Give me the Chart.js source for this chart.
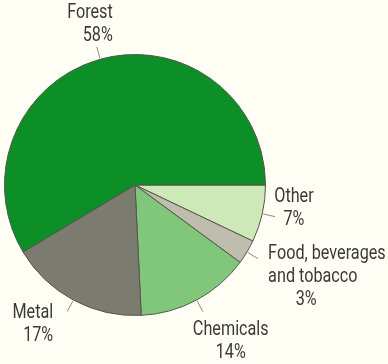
<!DOCTYPE html>
<html>
<head>
<meta charset="utf-8">
<script src="https://cdn.jsdelivr.net/npm/chart.js@4"></script>
<style>
  html, body { margin: 0; padding: 0; background: #fffff6; }
  #wrap { width: 388px; height: 364px; }
</style>
</head>
<body>
<div id="wrap"><canvas id="myChart" width="388" height="364"></canvas></div>
<script>
// industry shares, clockwise from 3 o'clock
const sectors = ['Other', 'Food, beverages\nand tobacco', 'Chemicals', 'Metal', 'Forest'];
const shares = [7, 3, 14, 17, 58];
const sliceColors = ['#cde9b8', '#bebdae', '#80c67b', '#7b7b70', '#0b8f26'];

// where each label sits relative to the outer end of its leader line
const labelSpots = [
    {dx: 19, dy: -20, align: 'center'},
    {dx: 10, dy: -5, align: 'left', pctX: 48},
    {dx: 28, dy: 19, align: 'center'},
    {dx: -14, dy: 2, align: 'right'},
    {dx: 16, dy: -34, align: 'right'}
];

const FONT = '20px Roboto, "DejaVu Sans", sans-serif';
const SQUEEZE = 0.81;   // narrow the face horizontally
const LINE_H = 23;

const leaderLabels = {
    id: 'leaderLabels',
    afterDatasetsDraw(chart) {
        const ctx = chart.ctx;
        const arcs = chart.getDatasetMeta(0).data;
        ctx.save();
        ctx.font = FONT;
        ctx.fillStyle = '#3a3a36';
        ctx.strokeStyle = '#8a8a84';
        ctx.lineWidth = 1;
        ctx.textBaseline = 'middle';
        arcs.forEach((arc, i) => {
            const p = arc.getProps(['x', 'y', 'startAngle', 'endAngle', 'outerRadius'], true);
            const mid = (p.startAngle + p.endAngle) / 2;
            const r0 = p.outerRadius + 1, r1 = p.outerRadius + 13;
            const x0 = p.x + Math.cos(mid) * r0, y0 = p.y + Math.sin(mid) * r0;
            const x1 = p.x + Math.cos(mid) * r1, y1 = p.y + Math.sin(mid) * r1;
            ctx.beginPath();
            ctx.moveTo(x0, y0);
            ctx.lineTo(x1, y1);
            ctx.stroke();

            const spot = labelSpots[i];
            const lines = sectors[i].split('\n').concat(shares[i] + '%');
            lines.forEach((txt, k) => {
                let tx = x1 + spot.dx;
                let align = spot.align;
                // the percentage under a two-line label is centred beneath it
                if (spot.pctX !== undefined && k === lines.length - 1) {
                    align = 'center';
                    tx = x1 + spot.pctX;
                }
                ctx.save();
                ctx.translate(tx, y1 + spot.dy + k * LINE_H);
                ctx.scale(SQUEEZE, 1);
                ctx.textAlign = align;
                ctx.fillText(txt, 0, 0);
                ctx.restore();
            });
        });
        ctx.restore();
    }
};

let myChart = document.getElementById('myChart').getContext('2d');

let industryPie = new Chart(myChart, {
    type: 'pie',
    data: {
        labels: sectors,
        datasets: [{
            data: shares,
            backgroundColor: sliceColors,
            borderColor: '#55554c',
            borderWidth: 1
        }]
    },
    options: {
        responsive: false,
        animation: false,
        rotation: 90,
        layout: {
            padding: {left: 4, top: 54, right: 122, bottom: 48}
        },
        plugins: {
            legend: {display: false},
            tooltip: {enabled: false}
        }
    },
    plugins: [leaderLabels]
});
</script>
</body>
</html>
